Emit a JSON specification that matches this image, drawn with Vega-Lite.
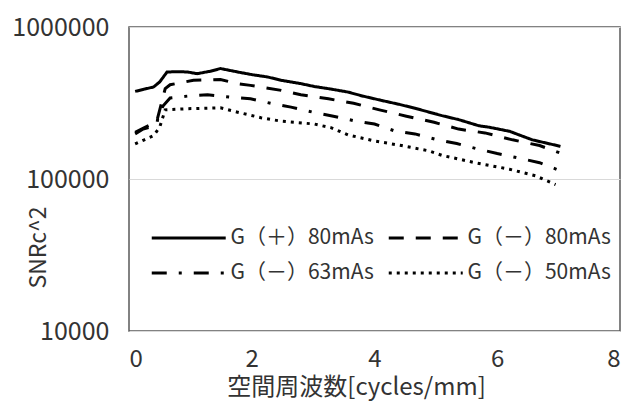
{
  "$schema": "https://vega.github.io/schema/vega-lite/v6.json",
  "autosize": "none",
  "width": 491,
  "height": 304,
  "padding": {"left": 129, "top": 27, "right": 8, "bottom": 70},
  "background": "white",
  "config": {
    "view": {"stroke": "#595959", "strokeWidth": 1.5},
    "font": "Noto Sans CJK JP"
  },
  "data": {
    "values": [
      {"s": "G（＋）80mAs", "x": 0.1, "y": 377000},
      {"s": "G（＋）80mAs", "x": 0.25, "y": 390000},
      {"s": "G（＋）80mAs", "x": 0.4, "y": 403000},
      {"s": "G（＋）80mAs", "x": 0.5, "y": 435000},
      {"s": "G（＋）80mAs", "x": 0.62, "y": 506000},
      {"s": "G（＋）80mAs", "x": 0.8, "y": 508000},
      {"s": "G（＋）80mAs", "x": 0.95, "y": 506000},
      {"s": "G（＋）80mAs", "x": 1.11, "y": 493000},
      {"s": "G（＋）80mAs", "x": 1.33, "y": 512000},
      {"s": "G（＋）80mAs", "x": 1.49, "y": 533000},
      {"s": "G（＋）80mAs", "x": 1.77, "y": 506000},
      {"s": "G（＋）80mAs", "x": 2.0, "y": 486000},
      {"s": "G（＋）80mAs", "x": 2.26, "y": 469000},
      {"s": "G（＋）80mAs", "x": 2.48, "y": 446000},
      {"s": "G（＋）80mAs", "x": 2.8, "y": 424000},
      {"s": "G（＋）80mAs", "x": 3.02, "y": 406000},
      {"s": "G（＋）80mAs", "x": 3.3, "y": 390000},
      {"s": "G（＋）80mAs", "x": 3.57, "y": 373000},
      {"s": "G（＋）80mAs", "x": 3.8, "y": 352000},
      {"s": "G（＋）80mAs", "x": 4.11, "y": 329000},
      {"s": "G（＋）80mAs", "x": 4.4, "y": 310000},
      {"s": "G（＋）80mAs", "x": 4.66, "y": 292000},
      {"s": "G（＋）80mAs", "x": 5.1, "y": 261000},
      {"s": "G（＋）80mAs", "x": 5.37, "y": 246000},
      {"s": "G（＋）80mAs", "x": 5.7, "y": 224000},
      {"s": "G（＋）80mAs", "x": 5.87, "y": 219000},
      {"s": "G（＋）80mAs", "x": 6.2, "y": 206000},
      {"s": "G（＋）80mAs", "x": 6.57, "y": 181000},
      {"s": "G（＋）80mAs", "x": 7.03, "y": 164000},

      {"s": "G（－）80mAs", "x": 0.1, "y": 203000},
      {"s": "G（－）80mAs", "x": 0.26, "y": 219000},
      {"s": "G（－）80mAs", "x": 0.45, "y": 238000},
      {"s": "G（－）80mAs", "x": 0.59, "y": 393000},
      {"s": "G（－）80mAs", "x": 0.67, "y": 417000},
      {"s": "G（－）80mAs", "x": 1.05, "y": 446000},
      {"s": "G（－）80mAs", "x": 1.49, "y": 451000},
      {"s": "G（－）80mAs", "x": 1.77, "y": 424000},
      {"s": "G（－）80mAs", "x": 1.98, "y": 413000},
      {"s": "G（－）80mAs", "x": 2.48, "y": 383000},
      {"s": "G（－）80mAs", "x": 2.8, "y": 358000},
      {"s": "G（－）80mAs", "x": 3.25, "y": 337000},
      {"s": "G（－）80mAs", "x": 3.66, "y": 315000},
      {"s": "G（－）80mAs", "x": 4.08, "y": 285000},
      {"s": "G（－）80mAs", "x": 4.52, "y": 259000},
      {"s": "G（－）80mAs", "x": 4.97, "y": 236000},
      {"s": "G（－）80mAs", "x": 5.37, "y": 213000},
      {"s": "G（－）80mAs", "x": 5.8, "y": 201000},
      {"s": "G（－）80mAs", "x": 6.25, "y": 181000},
      {"s": "G（－）80mAs", "x": 6.69, "y": 166000},
      {"s": "G（－）80mAs", "x": 7.01, "y": 149000},

      {"s": "G（－）63mAs", "x": 0.1, "y": 198000},
      {"s": "G（－）63mAs", "x": 0.23, "y": 213000},
      {"s": "G（－）63mAs", "x": 0.45, "y": 225000},
      {"s": "G（－）63mAs", "x": 0.48, "y": 266000},
      {"s": "G（－）63mAs", "x": 0.56, "y": 304000},
      {"s": "G（－）63mAs", "x": 0.67, "y": 341000},
      {"s": "G（－）63mAs", "x": 0.95, "y": 351000},
      {"s": "G（－）63mAs", "x": 1.28, "y": 358000},
      {"s": "G（－）63mAs", "x": 1.66, "y": 345000},
      {"s": "G（－）63mAs", "x": 1.98, "y": 337000},
      {"s": "G（－）63mAs", "x": 2.32, "y": 314000},
      {"s": "G（－）63mAs", "x": 2.64, "y": 297000},
      {"s": "G（－）63mAs", "x": 3.0, "y": 275000},
      {"s": "G（－）63mAs", "x": 3.33, "y": 259000},
      {"s": "G（－）63mAs", "x": 3.66, "y": 242000},
      {"s": "G（－）63mAs", "x": 4.0, "y": 230000},
      {"s": "G（－）63mAs", "x": 4.33, "y": 207000},
      {"s": "G（－）63mAs", "x": 4.66, "y": 198000},
      {"s": "G（－）63mAs", "x": 4.98, "y": 183000},
      {"s": "G（－）63mAs", "x": 5.34, "y": 171000},
      {"s": "G（－）63mAs", "x": 5.67, "y": 158000},
      {"s": "G（－）63mAs", "x": 6.0, "y": 147000},
      {"s": "G（－）63mAs", "x": 6.36, "y": 137000},
      {"s": "G（－）63mAs", "x": 6.69, "y": 128000},
      {"s": "G（－）63mAs", "x": 7.01, "y": 114000},

      {"s": "G（－）50mAs", "x": 0.1, "y": 170000},
      {"s": "G（－）50mAs", "x": 0.25, "y": 181000},
      {"s": "G（－）50mAs", "x": 0.4, "y": 193000},
      {"s": "G（－）50mAs", "x": 0.5, "y": 219000},
      {"s": "G（－）50mAs", "x": 0.59, "y": 285000},
      {"s": "G（－）50mAs", "x": 0.95, "y": 290000},
      {"s": "G（－）50mAs", "x": 1.49, "y": 294000},
      {"s": "G（－）50mAs", "x": 1.77, "y": 275000},
      {"s": "G（－）50mAs", "x": 2.15, "y": 253000},
      {"s": "G（－）50mAs", "x": 2.48, "y": 240000},
      {"s": "G（－）50mAs", "x": 3.02, "y": 230000},
      {"s": "G（－）50mAs", "x": 3.3, "y": 217000},
      {"s": "G（－）50mAs", "x": 3.57, "y": 195000},
      {"s": "G（－）50mAs", "x": 4.0, "y": 178000},
      {"s": "G（－）50mAs", "x": 4.44, "y": 166000},
      {"s": "G（－）50mAs", "x": 4.89, "y": 153000},
      {"s": "G（－）50mAs", "x": 5.1, "y": 143000},
      {"s": "G（－）50mAs", "x": 5.64, "y": 128000},
      {"s": "G（－）50mAs", "x": 6.2, "y": 116000},
      {"s": "G（－）50mAs", "x": 6.62, "y": 105000},
      {"s": "G（－）50mAs", "x": 6.95, "y": 92000}
    ]
  },
  "mark": {"type": "line", "color": "black", "strokeWidth": 3, "strokeCap": "butt", "clip": true},
  "encoding": {
    "x": {
      "field": "x", "type": "quantitative",
      "scale": {"domain": [0, 8], "nice": false, "zero": false},
      "axis": {
        "values": [0, 2, 4, 6, 8], "format": "d", "grid": false, "domain": false, "ticks": false,
        "labelFontSize": 24, "labelColor": "#333333", "labelPadding": 16,
        "title": "空間周波数[cycles/mm]", "titleFontSize": 24, "titleFontWeight": "normal", "titleColor": "#333333",
        "titleX": 227, "titleY": 56, "titleBaseline": "middle", "titleAlign": "center"
      }
    },
    "y": {
      "field": "y", "type": "quantitative",
      "scale": {"type": "log", "domain": [10000, 1000000], "nice": false},
      "axis": {
        "values": [10000, 100000, 1000000], "format": "d", "grid": true, "gridColor": "#d9d9d9", "gridWidth": 1.2,
        "domain": false, "ticks": false,
        "labelFontSize": 25, "labelColor": "#333333", "labelPadding": 20,
        "title": "SNRc^2", "titleFontSize": 23, "titleFontWeight": "normal", "titleColor": "#333333",
        "titleX": -91, "titleY": 220, "titleAngle": -90, "titleBaseline": "middle", "titleAlign": "center"
      }
    },
    "strokeDash": {
      "field": "s", "type": "nominal",
      "scale": {
        "domain": ["G（＋）80mAs", "G（－）80mAs", "G（－）63mAs", "G（－）50mAs"],
        "range": [[1, 0], [15, 12], [15, 12, 3, 12], [3, 5]]
      },
      "legend": {
        "title": null, "orient": "none", "legendX": 21, "legendY": 200, "columns": 2,
        "direction": "horizontal",
        "symbolType": "M-1,0H7", "symbolSize": 342, "symbolStrokeWidth": 3, "symbolStrokeColor": "black",
        "symbolFillColor": "transparent",
        "labelFontSize": 21, "labelColor": "#333333", "labelOffset": 58.5, "columnPadding": 8, "rowPadding": 14,
        "padding": 0, "labelLimit": 300
      }
    }
  }
}
